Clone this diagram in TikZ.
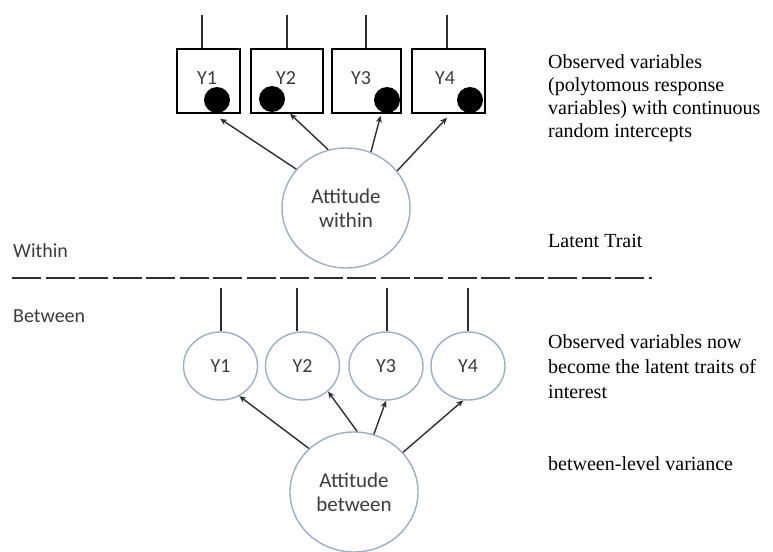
\documentclass[tikz,border=0pt]{standalone}
\usepackage{fontspec}
\newfontfamily\notefont{Liberation Serif}
\newfontfamily\carl{Carlito}
\usetikzlibrary{arrows.meta,shapes.geometric,calc}
\definecolor{circlecol}{HTML}{9AAEC6}
\definecolor{txtgray}{HTML}{3C3C3C}
\definecolor{linecol}{HTML}{2E2E2E}
\tikzset{
  obsbox/.style={draw=black,line width=1.4pt,minimum width=#1,minimum height=64pt,inner sep=0pt},
  dot/.style={circle,fill=black,minimum size=26pt,inner sep=0pt},
  latent/.style={ellipse,draw=circlecol,line width=1.4pt,minimum width=128pt,minimum height=120pt,inner sep=0pt,
    font=\carl\fontsize{21}{24}\selectfont,text=txtgray,align=center},
  smallcirc/.style={ellipse,draw=circlecol,line width=1.4pt,minimum width=74pt,minimum height=68pt,inner sep=0pt,
    font=\carl\fontsize{20}{24}\selectfont,text=txtgray},
  lbl/.style={font=\carl\fontsize{20}{24}\selectfont,text=txtgray,inner sep=0pt},
  note/.style={font=\notefont\fontsize{20}{24}\selectfont,anchor=base west,inner sep=0pt},
  conn/.style={draw=linecol,line width=1.4pt},
  arr/.style={conn,-{Stealth[length=7pt,width=6pt]}}
}
\begin{document}
\begin{tikzpicture}[x=1pt,y=-1pt]
\useasboundingbox (0,0) rectangle (773,551);
% notes
\node[note] (n1a) at (548,68) {Observed variables};
\node[note] (n1b) at (548,91) {(polytomous response};
\node[note] (n1c) at (548,114) {variables) with continuous};
\node[note] (n1d) at (548,137) {random intercepts};
\node[note] (n2) at (548,247) {Latent Trait};
\node[note] (n3a) at (548,348) {Observed variables now};
\node[note] (n3b) at (548,373) {become the latent traits of};
\node[note] (n3c) at (548,398) {interest};
\node[note] (n4) at (548,470) {between-level variance};
% top boxes
\node[obsbox=63pt] (b1) at (208.5,81) {};
\node[obsbox=72pt] (b2) at (287,81) {};
\node[obsbox=69pt] (b3) at (366.5,81) {};
\node[obsbox=73pt] (b4) at (448.5,81) {};
\node[lbl] (t1) at (207,78) {Y1};
\node[lbl] (t2) at (286,78) {Y2};
\node[lbl] (t3) at (361,78) {Y3};
\node[lbl] (t4) at (445,78) {Y4};
\node[dot] (d1) at (217,100) {};
\node[dot] (d2) at (272,99) {};
\node[dot] (d3) at (387,100) {};
\node[dot] (d4) at (470,100) {};
% top free ends
\coordinate (u1) at (202,15);
\coordinate (u2) at (287,15);
\coordinate (u3) at (366,15);
\coordinate (u4) at (447,15);
\draw[conn] (u1) -- (u1 |- b1.north);
\draw[conn] (u2) -- (u2 |- b2.north);
\draw[conn] (u3) -- (u3 |- b3.north);
\draw[conn] (u4) -- (u4 |- b4.north);
% within latent
\node[latent] (aw) at (346,208) {Attitude\\within};
\draw[arr] (aw.142) -- ($(b1.south west)!0.68!(b1.south east)+(0,5)$);
\draw[arr] (aw.107) -- ($(b2.south west)!0.54!(b2.south east)$);
\draw[arr] (aw.66) -- ($(b3.south west)!0.7!(b3.south east)+(0,2)$);
\draw[arr] (aw.36) -- ($(b4.south west)!0.48!(b4.south east)+(0,4)$);
% labels and divider
\node[lbl,anchor=base west] (within) at (13,257) {Within};
\node[lbl,anchor=base west] (between) at (13,322) {Between};
\coordinate (dl) at (12,278);
\coordinate (dr) at (652,278);
\draw[conn,dash pattern=on 29pt off 4.5pt] (dl) -- (dr);
% between level
\node[smallcirc] (c1) at (220.5,366) {Y1};
\node[smallcirc] (c2) at (302.5,366) {Y2};
\node[smallcirc] (c3) at (386,366) {Y3};
\node[smallcirc] (c4) at (468,366) {Y4};
\coordinate (v1) at (221,288);
\coordinate (v2) at (297,288);
\coordinate (v3) at (387,288);
\coordinate (v4) at (468,288);
\draw[conn] (v1) -- (v1 |- c1.north);
\draw[conn] (v2) -- (v2 |- c2.north);
\draw[conn] (v3) -- (v3 |- c3.north);
\draw[conn] (v4) -- (v4 |- c4.north);
\node[latent] (ab) at (354,492) {Attitude\\between};
\draw[arr] (ab.136) -- (c1.-58);
\draw[arr] (ab.87) -- (c2.-45);
\draw[arr] (ab.71) -- (c3.-90);
\draw[arr] (ab.39) -- (c4.-98);
\end{tikzpicture}
\end{document}
